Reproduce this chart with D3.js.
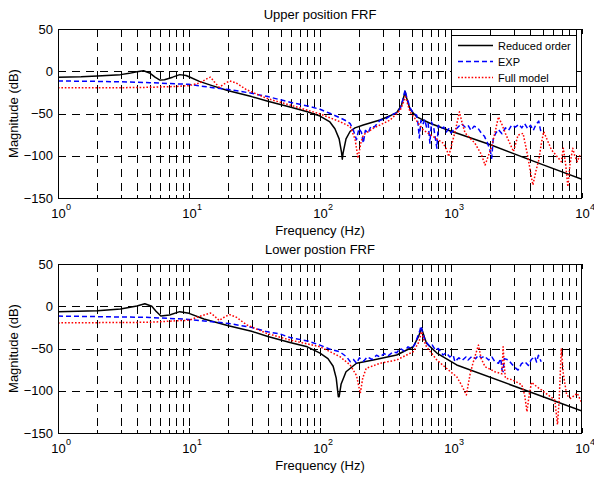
<!DOCTYPE html>
<html>
<head>
<meta charset="utf-8">
<script src="https://cdn.jsdelivr.net/npm/d3@7"></script>
<style>
  body { margin: 0; background: #fff; }
  svg { font-family: "Liberation Sans", Arial, Helvetica, sans-serif; }
</style>
</head>
<body>
<script>
// chart values: [frequency Hz, magnitude dB]
var upperReduced = [[1,-7],[1.5,-6.5],[2,-5.5],[3,-4],[3.5,-2.5],[4,-0.5],[4.5,0.5],[5,-2],[5.5,-7],[6,-10.5],[6.5,-10],[7.5,-7],[8.5,-4],[9.5,-5],[10,-6.5],[12,-12],[15,-17],[20,-23],[30,-30],[40,-35.5],[60,-42.5],[80,-48],[100,-53],[119,-60],[130,-68],[140,-80],[146,-96],[148,-104],[150,-97],[158,-80],[170,-71],[185,-67],[214,-63.6],[287,-57.7],[350,-52],[385,-49],[419,-40],[440,-28],[446,-24],[455,-30],[487,-45],[547,-54],[692,-61.5],[1000,-71],[1100,-73],[2000,-87],[5000,-110.5],[10000,-128]];
var upperExp = [[1,-11.5],[2,-12],[3,-12.5],[5,-13.5],[7,-14.5],[10,-15.5],[13,-18],[16,-20],[20,-21.5],[30,-26],[40,-30],[60,-37],[80,-41],[100,-45],[120,-50],[142,-55],[160,-59],[170,-62],[180,-70],[190,-81],[198,-68],[207,-72],[214,-85],[222,-70],[233,-73],[245,-65],[260,-66],[287,-58],[320,-56],[350,-52],[385,-49],[410,-44],[430,-33],[446,-22],[458,-30],[487,-43.5],[520,-50],[547,-52],[560,-62],[573,-79],[590,-58],[610,-63],[630,-57],[650,-66],[670,-62],[690,-85],[710,-60],[740,-68],[780,-91],[800,-64],[840,-68],[880,-66],[920,-72],[960,-68],[1000,-73],[1050,-69],[1100,-68],[1200,-62],[1280,-66],[1350,-64],[1420,-70],[1500,-65],[1600,-67],[1700,-73],[1800,-77],[1900,-85],[2000,-95],[2045,-103],[2100,-80],[2200,-73],[2300,-69],[2450,-74],[2600,-67],[2750,-70],[2900,-64],[3100,-66],[3300,-63],[3470,-67],[3650,-62],[3850,-68],[4050,-64],[4250,-70],[4450,-63],[4675,-59],[4800,-68],[4880,-73]];
var upperFull = [[1,-19.5],[3,-19.5],[5,-19],[8,-18],[10,-17],[12,-14],[14,-8],[14.6,-7],[15.5,-12],[17,-19],[19,-14],[20.5,-11.5],[23,-14],[27.6,-22],[39,-32],[59,-40],[100,-50.5],[142,-59.7],[170,-65.6],[185,-80],[195,-103],[205,-85],[214,-75.5],[255,-67.5],[343,-57.7],[410,-46],[435,-36],[449,-30],[465,-38],[487,-48],[614,-69.5],[870,-85],[930,-93],[960,-101],[1000,-90],[1080,-70],[1160,-48],[1220,-62],[1280,-73],[1520,-85],[1700,-98],[1820,-111],[1950,-98],[2045,-89],[2200,-68],[2300,-54],[2450,-63],[2600,-73.5],[3000,-95],[3250,-75.5],[3550,-73.5],[3860,-101],[4050,-120],[4220,-134.6],[4450,-118],[4680,-105],[4900,-85],[5100,-71.5],[5850,-93],[6950,-107],[7200,-91],[7500,-110],[7800,-136.6],[8100,-110],[8500,-91],[8800,-100],[9200,-107],[9600,-100],[10000,-105]];

var lowerReduced = [[1,-6.4],[2,-5.2],[3,-3.2],[4,0.4],[4.6,3],[5.2,0],[5.6,-6],[6.1,-11.6],[7.1,-10.4],[8.5,-6.4],[10,-8.4],[13,-15],[20,-23],[30,-29.6],[40,-35.7],[59,-42.8],[80,-48],[100,-55.4],[115,-62],[126,-71],[133,-85],[138,-107],[140,-107],[145,-92],[158,-77.5],[190,-67.5],[255,-63.6],[385,-57.7],[515,-47.9],[564,-36],[596,-26],[625,-36],[650,-43.8],[780,-55.4],[1105,-69.5],[10000,-124]];
var lowerExp = [[1,-11.6],[5,-13.2],[10,-15.6],[20,-20.3],[30,-25],[39,-30],[50,-33],[59,-37],[80,-41],[100,-46],[120,-51],[142,-54],[160,-60],[170,-65.6],[180,-63],[190,-67.5],[200,-61],[215,-65],[230,-60],[250,-63],[270,-58],[287,-60],[310,-56],[330,-59],[360,-54],[385,-55],[410,-50],[440,-53],[470,-48],[500,-50],[530,-45],[556,-36],[575,-30],[590,-23.4],[605,-30],[630,-40],[660,-44],[692,-47.9],[720,-46],[760,-52],[800,-50],[870,-57.7],[920,-55],[980,-60],[1040,-58],[1070,-65.6],[1150,-61],[1220,-64],[1300,-60],[1350,-63.6],[1450,-59],[1540,-62],[1620,-58],[1700,-61],[1800,-59],[1940,-63.6],[2050,-60],[2150,-65],[2300,-67.5],[2400,-62],[2450,-75],[2500,-77.5],[2550,-62],[2750,-63.6],[2900,-68],[3050,-72],[3250,-75.5],[3450,-68],[3660,-65.6],[3900,-70],[4100,-63],[4360,-59.7],[4500,-66],[4650,-58],[4880,-65.6]];
var lowerFull = [[1,-19.7],[5,-19],[8.5,-17],[10,-16.6],[12,-12],[14.6,-8],[15.5,-11],[17,-16.8],[19,-12],[20.5,-10],[23,-13],[27.6,-22],[39,-32],[59,-40],[100,-47.9],[142,-59.7],[170,-69.5],[190,-82],[203,-103],[212,-85],[225,-73.5],[287,-67.5],[385,-63.6],[515,-53.8],[570,-42],[596,-30],[620,-40],[650,-47.9],[780,-63.6],[1000,-78],[1105,-83.4],[1200,-93],[1310,-105],[1400,-80],[1470,-67.5],[1620,-46],[1700,-62],[1820,-71.5],[2160,-77.5],[2450,-80],[2500,-47.9],[2550,-70],[2600,-85],[2930,-87],[3470,-93],[3650,-105],[3800,-124.8],[3950,-105],[4120,-90],[4500,-95],[4900,-99],[6200,-111],[6500,-140],[6700,-110],[6950,-49.8],[7200,-80],[7640,-105],[8200,-109],[9200,-103],[10000,-115]];

var titles = ["Upper position FRF", "Lower postion FRF"];
var legendNames = ["Reduced order", "EXP", "Full model"];
var xDecades = [1, 10, 100, 1000, 10000];
var xExponents = ["0", "1", "2", "3", "4"];
var yTicks = [50, 0, -50, -100, -150];

var width = 594, height = 479;
var left = 58, right = 582;
var panelTops = [29, 264];
var panelH = 169;

var svg = d3.select("body").append("svg")
    .attr("width", width)
    .attr("height", height);

svg.append("rect").attr("width", width).attr("height", height).attr("fill", "#fff");

// grid positions 1..9 per decade
var gridX = [];
for (var k = 0; k < 4; k++) {
  for (var m = 1; m <= 9; m++) gridX.push(m * Math.pow(10, k));
}
gridX.push(10000);

var styles = [
  {color: "#000", dash: null, w: 1.5},
  {color: "#0000ff", dash: "5,3", w: 1.5},
  {color: "#ff0000", dash: "1.6,1.8", w: 1.5}
];

var panels = [
  {series: [upperReduced, upperExp, upperFull]},
  {series: [lowerReduced, lowerExp, lowerFull]}
];

panels.forEach(function(p, pi) {
  var top = panelTops[pi];
  var bottom = top + panelH;

  var x = d3.scaleLog().domain([1, 10000]).range([left, right]);
  var y = d3.scaleLinear().domain([-150, 50]).range([bottom, top]);

  var g = svg.append("g").attr("class", "panel");

  // grid lines
  g.append("g").selectAll("line.vgrid")
    .data(gridX.filter(function(d) { return d > 1 && d < 10000; }))
    .enter().append("line")
      .attr("x1", function(d) { return Math.round(x(d)) + 0.5; })
      .attr("x2", function(d) { return Math.round(x(d)) + 0.5; })
      .attr("y1", top).attr("y2", bottom)
      .attr("stroke", "#000").attr("stroke-width", 1)
      .attr("stroke-dasharray", "8,6");

  g.append("g").selectAll("line.hgrid")
    .data(yTicks.filter(function(d) { return d < 50 && d > -150; }))
    .enter().append("line")
      .attr("x1", left).attr("x2", right)
      .attr("y1", function(d) { return Math.round(y(d)) + 0.5; })
      .attr("y2", function(d) { return Math.round(y(d)) + 0.5; })
      .attr("stroke", "#000").attr("stroke-width", 1)
      .attr("stroke-dasharray", "8,6");

  // inward tick marks
  var ticks = g.append("g").attr("stroke", "#000").attr("stroke-width", 1);
  gridX.forEach(function(d) {
    var len = xDecades.indexOf(d) >= 0 ? 5 : 3;
    var xx = Math.round(x(d)) + 0.5;
    ticks.append("line").attr("x1", xx).attr("x2", xx).attr("y1", bottom).attr("y2", bottom - len);
    ticks.append("line").attr("x1", xx).attr("x2", xx).attr("y1", top).attr("y2", top + len);
  });
  yTicks.forEach(function(d) {
    var yy = Math.round(y(d)) + 0.5;
    ticks.append("line").attr("x1", left).attr("x2", left + 5).attr("y1", yy).attr("y2", yy);
    ticks.append("line").attr("x1", right).attr("x2", right - 5).attr("y1", yy).attr("y2", yy);
  });

  // clip
  var clipId = "clip" + pi;
  svg.append("clipPath").attr("id", clipId)
    .append("rect").attr("x", left).attr("y", top)
    .attr("width", right - left).attr("height", panelH);

  var line = d3.line()
    .x(function(d) { return x(d[0]); })
    .y(function(d) { return y(d[1]); });

  p.series.forEach(function(s, si) {
    g.append("path")
      .datum(s)
      .attr("clip-path", "url(#" + clipId + ")")
      .attr("d", line)
      .attr("fill", "none")
      .attr("stroke", styles[si].color)
      .attr("stroke-width", styles[si].w)
      .attr("stroke-dasharray", styles[si].dash)
      .attr("stroke-linejoin", "round");
  });

  // axes box
  g.append("rect")
    .attr("x", left + 0.5).attr("y", top + 0.5)
    .attr("width", right - left - 1).attr("height", panelH)
    .attr("fill", "none").attr("stroke", "#000").attr("stroke-width", 1);

  // y axis labels
  var yAxis = d3.axisLeft(y).tickValues(yTicks).tickSize(0).tickPadding(5);
  var ya = g.append("g").attr("transform", "translate(" + (left - 0) + ",0)").call(yAxis);
  ya.select(".domain").remove();
  ya.selectAll("text").attr("font-size", 13).attr("fill", "#000")
    .style("font-family", "'Liberation Sans', Arial, sans-serif");

  // x axis labels 10^n
  var xAxis = d3.axisBottom(x).tickValues(xDecades).tickSize(0).tickFormat("");
  var xa = g.append("g").attr("transform", "translate(0," + bottom + ")").call(xAxis);
  xa.select(".domain").remove();
  xa.selectAll(".tick").each(function(d, i) {
    var t = d3.select(this);
    t.select("text").remove();
    t.append("text").attr("y", 20).attr("text-anchor", "middle")
      .attr("font-size", 13).attr("fill", "#000").text("10");
    t.append("text").attr("x", 7.5).attr("y", 12).attr("text-anchor", "start")
      .attr("font-size", 9).attr("fill", "#000").text(xExponents[i]);
  });

  // titles and axis labels
  svg.append("text")
    .attr("x", (left + right) / 2).attr("y", top - 10)
    .attr("text-anchor", "middle").attr("font-size", 13)
    .text(titles[pi]);

  svg.append("text")
    .attr("x", (left + right) / 2).attr("y", bottom + 37)
    .attr("text-anchor", "middle").attr("font-size", 13)
    .text("Frequency (Hz)");

  svg.append("text")
    .attr("transform", "translate(17.5," + (top + panelH / 2) + ") rotate(-90)")
    .attr("text-anchor", "middle").attr("font-size", 13)
    .text("Magnitude (dB)");

  // legend only on upper panel
  if (pi === 0) {
    var lg = svg.append("g");
    lg.append("rect")
      .attr("x", 451.5).attr("y", 35.5).attr("width", 125).attr("height", 51)
      .attr("fill", "#fff").attr("stroke", "#000").attr("stroke-width", 1);
    legendNames.forEach(function(name, i) {
      var ly = 45.5 + i * 16;
      lg.append("line")
        .attr("x1", 458).attr("x2", 493).attr("y1", ly).attr("y2", ly)
        .attr("stroke", styles[i].color).attr("stroke-width", styles[i].w)
        .attr("stroke-dasharray", styles[i].dash);
      lg.append("text")
        .attr("x", 498).attr("y", ly + 4)
        .attr("font-size", 11).text(name);
    });
  }
});
</script>
</body>
</html>
